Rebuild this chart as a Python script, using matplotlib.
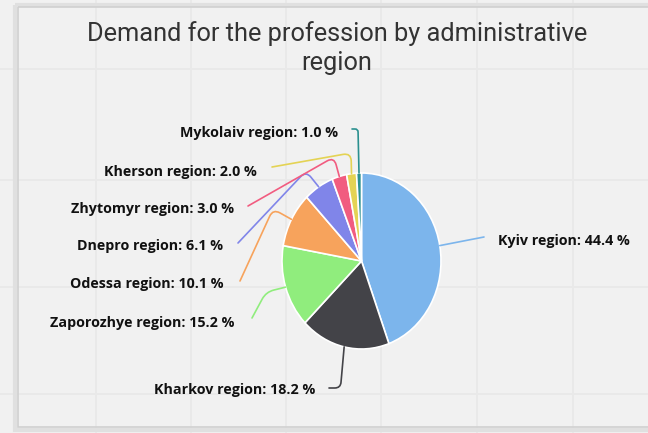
import numpy as np
import matplotlib
matplotlib.use('Agg')
import matplotlib.pyplot as plt
from matplotlib.path import Path
from matplotlib.patches import PathPatch, Rectangle

# data
regions = [
    'Kyiv region', 'Kharkov region', 'Zaporozhye region', 'Odessa region',
    'Dnepro region', 'Zhytomyr region', 'Kherson region', 'Mykolaiv region',
]
shares = [44.4, 18.2, 15.2, 10.1, 6.1, 3.0, 2.0, 1.0]
colors = ['#7cb5ec', '#434348', '#90ed7d', '#f7a35c',
          '#8085e9', '#f15c80', '#e4d354', '#2b908f']
title = 'Demand for the profession by administrative\nregion'

W, H = 648, 433
# pie geometry in px (ellipse, as in the screenshot)
cx, cy, rx, ry = 361.5, 261.0, 79.5, 88.0

# label anchors (px): x, y, horizontal alignment
label_pos = [
    (498, 241, 'left'), (315, 390, 'right'), (235, 323, 'right'),
    (224, 284, 'right'), (223, 246, 'right'), (234, 209, 'right'),
    (257, 172, 'right'), (338, 133, 'right'),
]
# connector elbow and end points (px)
connector_pts = [
    [(484, 237)],
    [(340.5, 388), (329, 388)],
    [(266, 292), (252, 318)],
    [(273, 209), (240, 281)],
    [(306, 171), (238, 243)],
    [(334, 157), (248, 206)],
    [(351, 153), (272, 167)],
    [(358, 129), (352, 129)],
]


def rounded_path(points, r=7.0):
    """Polyline with rounded corners (quadratic bezier at every elbow)."""
    pts = [np.array(p, float) for p in points]
    verts, codes = [pts[0]], [Path.MOVETO]
    for i in range(1, len(pts) - 1):
        a, b, c = pts[i - 1], pts[i], pts[i + 1]
        d1 = (a - b) / np.linalg.norm(a - b)
        d2 = (c - b) / np.linalg.norm(c - b)
        rr = min(r, np.linalg.norm(a - b) / 2, np.linalg.norm(c - b) / 2)
        verts += [b + d1 * rr, b, b + d2 * rr]
        codes += [Path.LINETO, Path.CURVE3, Path.CURVE3]
    verts.append(pts[-1])
    codes.append(Path.LINETO)
    return Path(verts, codes)


fig = plt.figure(figsize=(W / 100, H / 100), dpi=100)
fig.patch.set_facecolor('#f1f1f1')

# background: faint page grid + card
bg = fig.add_axes([0, 0, 1, 1], zorder=0)
bg.set_xlim(0, W)
bg.set_ylim(H, 0)
bg.axis('off')
for gx in [96, 191, 286, 381, 477, 573]:
    bg.axvline(gx, color='#e9e9e9', lw=1.4, zorder=1)
for gy in [69, 180, 287, 394]:
    bg.axhline(gy, color='#e9e9e9', lw=1.4, zorder=1)
bg.add_patch(Rectangle((15, 5), 700, 425, facecolor='none',
                       edgecolor='#e0e0e0', lw=3, zorder=2))
bg.add_patch(Rectangle((18, 7), 700, 420, facecolor='none',
                       edgecolor='#d0d0d0', lw=1.2, zorder=3))

# pie (own axes so it can be squeezed into an ellipse)
pie_ax = fig.add_axes([(cx - rx) / W, 1 - (cy + ry) / H, 2 * rx / W, 2 * ry / H],
                      zorder=1)
pie_ax.pie(shares, colors=colors, startangle=90, counterclock=False, radius=1,
           wedgeprops=dict(edgecolor='white', linewidth=1.2))
pie_ax.set_aspect('auto')
pie_ax.set_xlim(-1, 1)
pie_ax.set_ylim(-1, 1)
pie_ax.axis('off')

# overlay: connectors, labels, title
ov = fig.add_axes([0, 0, 1, 1], zorder=2)
ov.set_xlim(0, W)
ov.set_ylim(H, 0)
ov.axis('off')
ov.patch.set_alpha(0)

cum = np.cumsum([0] + shares[:-1])
total = sum(shares)
for i, (name, val) in enumerate(zip(regions, shares)):
    theta = 2 * np.pi * (cum[i] + val / 2) / total
    edge = (cx + rx * np.sin(theta), cy - ry * np.cos(theta))
    path = rounded_path([edge] + connector_pts[i], r=8)
    ov.add_patch(PathPatch(path, facecolor='none', edgecolor=colors[i],
                           lw=1.2, capstyle='round'))
    lx, ly, ha = label_pos[i]
    ov.text(lx, ly, f'{name}: {val:.1f} %', ha=ha, va='center',
            fontsize=10.3, fontweight='bold', color='#111111',
            family=['Open Sans', 'DejaVu Sans'])

ov.text(337, 48, title, ha='center', va='center', fontsize=18.3,
        color='#333333', linespacing=1.3,
        family=['Roboto', 'DejaVu Sans'])

fig.savefig('out.png', dpi=100, facecolor=fig.get_facecolor())
